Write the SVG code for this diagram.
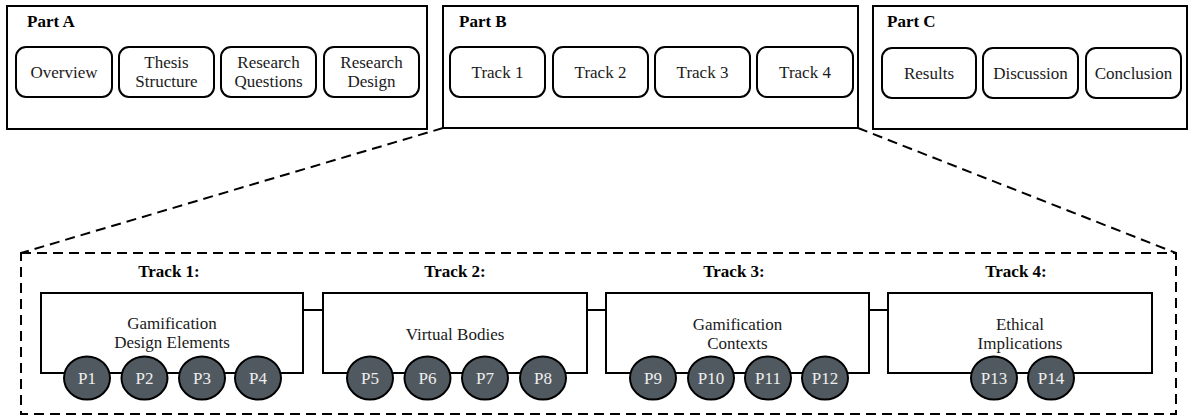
<svg xmlns="http://www.w3.org/2000/svg" width="1192" height="416" viewBox="0 0 1192 416">
  <style>
    .part { fill: #fff; stroke: #000; stroke-width: 2; }
    .item { fill: #fff; stroke: #000; stroke-width: 2; }
    .track { fill: #fff; stroke: #000; stroke-width: 2; }
    .pub { fill: #515960; stroke: #000; stroke-width: 2; }
    .zoomline { fill: none; stroke: #000; stroke-width: 2; stroke-dasharray: 10 6; }
    .link { fill: none; stroke: #000; stroke-width: 2; }
    .title { font-family: "Liberation Serif", serif; font-weight: bold; font-size: 17px; fill: #000; }
    .label { font-family: "Liberation Serif", serif; font-size: 17px; fill: #1a1a1a; text-anchor: middle; }
    .plabel { font-family: "Liberation Serif", serif; font-size: 17px; fill: #eee; text-anchor: middle; }
  </style>

  <!-- connectors: zoom-out lines, dashed frame, links between tracks -->
  <g id="connectors">
    <path class="zoomline" d="M443,128 L21,253"/>
    <path class="zoomline" d="M858,128 L1176,253"/>
    <rect class="zoomline" x="21" y="253" width="1155" height="161"/>
    <line class="link" x1="303" y1="310" x2="323" y2="310"/>
    <line class="link" x1="587" y1="310" x2="606" y2="310"/>
    <line class="link" x1="869" y1="310" x2="888" y2="310"/>
  </g>

  <!-- Part A -->
  <g id="partA">
    <rect class="part" x="7" y="6" width="420" height="123"/>
    <text class="title" x="27" y="27">Part A</text>
    <g id="overview">
      <rect class="item" x="16" y="47" width="96" height="50" rx="10"/>
      <text class="label" x="64" y="78">Overview</text>
    </g>
    <g id="thesis-structure">
      <rect class="item" x="119" y="47" width="95" height="50" rx="10"/>
      <text class="label" x="166.5" y="68">Thesis</text>
      <text class="label" x="166.5" y="87">Structure</text>
    </g>
    <g id="research-questions">
      <rect class="item" x="221" y="47" width="95" height="50" rx="10"/>
      <text class="label" x="268.5" y="68">Research</text>
      <text class="label" x="268.5" y="87">Questions</text>
    </g>
    <g id="research-design">
      <rect class="item" x="324" y="47" width="95" height="50" rx="10"/>
      <text class="label" x="371.5" y="68">Research</text>
      <text class="label" x="371.5" y="87">Design</text>
    </g>
  </g>

  <!-- Part B -->
  <g id="partB">
    <rect class="part" x="443" y="6" width="415" height="122"/>
    <text class="title" x="459" y="27">Part B</text>
    <g id="b-track1">
      <rect class="item" x="450" y="47" width="95" height="50" rx="10"/>
      <text class="label" x="497.5" y="78">Track 1</text>
    </g>
    <g id="b-track2">
      <rect class="item" x="553" y="47" width="95" height="50" rx="10"/>
      <text class="label" x="600.5" y="78">Track 2</text>
    </g>
    <g id="b-track3">
      <rect class="item" x="655" y="47" width="95" height="50" rx="10"/>
      <text class="label" x="702.5" y="78">Track 3</text>
    </g>
    <g id="b-track4">
      <rect class="item" x="757" y="47" width="96" height="50" rx="10"/>
      <text class="label" x="805" y="78">Track 4</text>
    </g>
  </g>

  <!-- Part C -->
  <g id="partC">
    <rect class="part" x="873" y="6" width="314" height="123"/>
    <text class="title" x="887" y="27">Part C</text>
    <g id="results">
      <rect class="item" x="882" y="48" width="94" height="50" rx="10"/>
      <text class="label" x="929" y="79">Results</text>
    </g>
    <g id="discussion">
      <rect class="item" x="983" y="48" width="95" height="50" rx="10"/>
      <text class="label" x="1030.5" y="79">Discussion</text>
    </g>
    <g id="conclusion">
      <rect class="item" x="1086" y="48" width="95" height="50" rx="10"/>
      <text class="label" x="1133.5" y="79">Conclusion</text>
    </g>
  </g>

  <!-- Track 1 -->
  <g id="track1">
    <text class="title" x="169" y="277" text-anchor="middle">Track 1:</text>
    <rect class="track" x="41" y="293" width="262" height="80"/>
    <text class="label" x="172" y="329">Gamification</text>
    <text class="label" x="172" y="348">Design Elements</text>
    <g id="p1"><ellipse class="pub" cx="87" cy="378" rx="23" ry="21.5"/><text class="plabel" x="87" y="384">P1</text></g>
    <g id="p2"><ellipse class="pub" cx="144.5" cy="378" rx="23" ry="21.5"/><text class="plabel" x="144.5" y="384">P2</text></g>
    <g id="p3"><ellipse class="pub" cx="202" cy="378" rx="23" ry="21.5"/><text class="plabel" x="202" y="384">P3</text></g>
    <g id="p4"><ellipse class="pub" cx="258" cy="378" rx="23" ry="21.5"/><text class="plabel" x="258" y="384">P4</text></g>
  </g>

  <!-- Track 2 -->
  <g id="track2">
    <text class="title" x="455" y="277" text-anchor="middle">Track 2:</text>
    <rect class="track" x="323" y="293" width="264" height="80"/>
    <text class="label" x="455" y="340">Virtual Bodies</text>
    <g id="p5"><ellipse class="pub" cx="370" cy="378" rx="23" ry="21.5"/><text class="plabel" x="370" y="384">P5</text></g>
    <g id="p6"><ellipse class="pub" cx="427.5" cy="378" rx="23" ry="21.5"/><text class="plabel" x="427.5" y="384">P6</text></g>
    <g id="p7"><ellipse class="pub" cx="485" cy="378" rx="23" ry="21.5"/><text class="plabel" x="485" y="384">P7</text></g>
    <g id="p8"><ellipse class="pub" cx="543" cy="378" rx="23" ry="21.5"/><text class="plabel" x="543" y="384">P8</text></g>
  </g>

  <!-- Track 3 -->
  <g id="track3">
    <text class="title" x="734" y="277" text-anchor="middle">Track 3:</text>
    <rect class="track" x="606" y="293" width="263" height="80"/>
    <text class="label" x="737.5" y="330">Gamification</text>
    <text class="label" x="737.5" y="349">Contexts</text>
    <g id="p9"><ellipse class="pub" cx="653" cy="378" rx="23" ry="21.5"/><text class="plabel" x="653" y="384">P9</text></g>
    <g id="p10"><ellipse class="pub" cx="711" cy="378" rx="23" ry="21.5"/><text class="plabel" x="711" y="384">P10</text></g>
    <g id="p11"><ellipse class="pub" cx="768" cy="378" rx="23" ry="21.5"/><text class="plabel" x="768" y="384">P11</text></g>
    <g id="p12"><ellipse class="pub" cx="825" cy="378" rx="23" ry="21.5"/><text class="plabel" x="825" y="384">P12</text></g>
  </g>

  <!-- Track 4 -->
  <g id="track4">
    <text class="title" x="1016" y="277" text-anchor="middle">Track 4:</text>
    <rect class="track" x="888" y="293" width="264" height="80"/>
    <text class="label" x="1020" y="330">Ethical</text>
    <text class="label" x="1020" y="349">Implications</text>
    <g id="p13"><ellipse class="pub" cx="994" cy="378" rx="23" ry="21.5"/><text class="plabel" x="994" y="384">P13</text></g>
    <g id="p14"><ellipse class="pub" cx="1051" cy="378" rx="23" ry="21.5"/><text class="plabel" x="1051" y="384">P14</text></g>
  </g>
</svg>
